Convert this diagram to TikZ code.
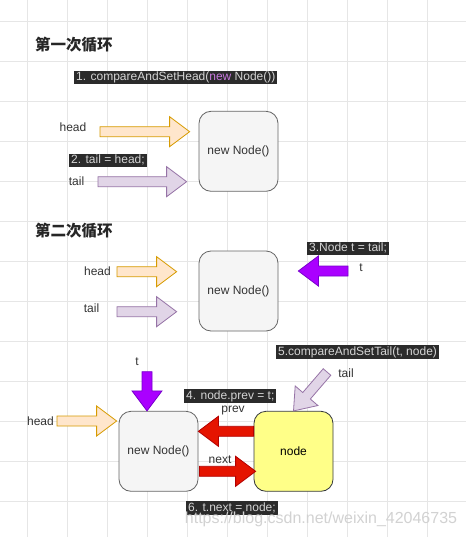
\documentclass[tikz,border=0pt]{standalone}
\usepackage{fontspec}
\setmainfont{Liberation Sans}
\newfontfamily\cjk{Noto Sans CJK SC}
\usetikzlibrary{calc}

\definecolor{gridcol}{HTML}{E6E6E6}
\definecolor{ink}{HTML}{333333}
\definecolor{boxfill}{HTML}{F5F5F5}
\definecolor{boxline}{HTML}{666666}
\definecolor{nodefill}{HTML}{FFFF88}
\definecolor{nodeline}{HTML}{36393D}
\definecolor{codebg}{HTML}{2B2B2B}
\definecolor{codetxt}{HTML}{D4D4D4}
\definecolor{keyword}{HTML}{C678DD}
\definecolor{orfill}{HTML}{FFE6CC}
\definecolor{orline}{HTML}{D79B00}
\definecolor{lifill}{HTML}{E1D5E7}
\definecolor{liline}{HTML}{9673A6}
\definecolor{vifill}{HTML}{AA00FF}
\definecolor{viline}{HTML}{7700CC}
\definecolor{rdfill}{HTML}{E51400}
\definecolor{rdline}{HTML}{B20000}

\tikzset{
  gridline/.style={draw=gridcol, line width=0.8pt},
  title/.style={anchor=west, inner sep=0pt, text=black!85,
    font={\cjk\bfseries\fontsize{15.5}{18}\selectfont}},
  code/.style={anchor=west, fill=codebg, text=codetxt, inner xsep=2pt,
    inner ysep=1pt, text height=9pt, text depth=2.5pt,
    font=\fontsize{12}{14}\selectfont},
  lbl/.style={text=ink, inner sep=1pt, font=\fontsize{12}{14}\selectfont},
  box/.style={draw=boxline, fill=boxfill, text=ink, line width=0.8pt,
    rounded corners=12pt, minimum width=79pt, minimum height=80pt,
    font=\fontsize{12}{14}\selectfont},
  orangeA/.style={draw=orline, fill=orfill},
  lilacA/.style={draw=liline, fill=lifill},
  violetA/.style={draw=viline, fill=vifill},
  redA/.style={draw=rdline, fill=rdfill},
}

% fat arrow: style, from, to
\newcommand\blockarrow[3]{%
  \path[#1, line width=0.8pt, line join=miter]
    let \p1=(#2), \p2=(#3), \n1={atan2(\y2-\y1,\x2-\x1)} in
    ($(\p1)+({\n1+90}:5pt)$)
    -- ($(\p2)+(\n1:-20pt)+({\n1+90}:5pt)$)
    -- ($(\p2)+(\n1:-20pt)+({\n1+90}:15pt)$)
    -- (\p2)
    -- ($(\p2)+(\n1:-20pt)+({\n1-90}:15pt)$)
    -- ($(\p2)+(\n1:-20pt)+({\n1-90}:5pt)$)
    -- ($(\p1)+({\n1-90}:5pt)$) -- cycle;}

\begin{document}
\begin{tikzpicture}[x=1pt, y=-1pt]
  \useasboundingbox[fill=white] (0,0) rectangle (466,537);

  % background grid
  \foreach \gx in {27.3,67.3,...,467}
    \draw[gridline] (\gx,0) -- (\gx,537);
  \foreach \gy in {21.7,61.7,...,537}
    \draw[gridline] (0,\gy) -- (466,\gy);

  % first loop
  \node[title] (title1) at (35,45) {第一次循环};
  \node[code] (code1) at (74,77.3)
    {1. compareAndSetHead(\textcolor{keyword}{new} Node())};
  \node[box] (new1) at (238.5,151.3) {new Node()};
  \node[lbl] (head1) at (73,127.7) {head};
  \node[code] (code2) at (69,160.5) {2. tail = head;};
  \node[lbl] (tail1) at (76.5,181.7) {tail};
  \coordinate (head1a) at (100,131.7);
  \coordinate (tail1a) at (98,181.7);
  \blockarrow{orangeA}{head1a}{[xshift=-9pt,yshift=19.6pt]new1.west}
  \blockarrow{lilacA}{tail1a}{[xshift=-12pt,yshift=-30.4pt]new1.west}

  % second loop
  \node[title] (title2) at (35,231) {第二次循环};
  \node[box] (new2) at (238.5,291) {new Node()};
  \node[lbl] (head2) at (97.5,271.7) {head};
  \node[lbl] (tail2) at (91.5,308) {tail};
  \node[code] (code3) at (307,248.3) {3.Node t = tail;};
  \node[lbl] (t2) at (361,268) {t};
  \coordinate (head2a) at (117,271.7);
  \coordinate (tail2a) at (117,311.7);
  \coordinate (t2a) at (348,271);
  \blockarrow{orangeA}{head2a}{[xshift=-22pt,yshift=19.3pt]new2.west}
  \blockarrow{lilacA}{tail2a}{[xshift=-22pt,yshift=-20.7pt]new2.west}
  \blockarrow{violetA}{t2a}{[xshift=20pt,yshift=20pt]new2.east}

  % enqueue
  \node[box] (new3) at (158.5,451.3) {new Node()};
  \node[box, fill=nodefill, draw=nodeline, text=black] (node) at (293.5,451.3) {node};
  \node[lbl] (t3) at (137,361.7) {t};
  \node[lbl] (head3) at (40.5,421) {head};
  \node[lbl] (tail3) at (346,373) {tail};
  \node[lbl] (prev) at (233,411) {prev};
  \node[lbl] (next) at (220,460) {next};
  \node[code] (code4) at (184,396) {4. node.prev = t;};
  \node[code] (code5) at (276,352) {5.compareAndSetTail(t, node)};
  \node[code] (code6) at (186,508) {6. t.next = node;};
  \coordinate (t3a) at (147,371.7);
  \coordinate (head3a) at (57,421);
  \coordinate (tail3a) at (327,372);
  \blockarrow{violetA}{t3a}{[xshift=-11.5pt]new3.north}
  \blockarrow{orangeA}{head3a}{[xshift=-2pt,yshift=30.3pt]new3.west}
  \blockarrow{lilacA}{tail3a}{node.north}
  \blockarrow{redA}{[yshift=20pt]node.west}{[yshift=20pt]new3.east}
  \blockarrow{redA}{[xshift=1pt,yshift=-20pt]new3.east}{[xshift=2pt,yshift=-20pt]node.west}

  % watermark
  \node[text=gray!35, inner sep=0pt, font=\fontsize{16}{18}\selectfont]
    (mark) at (321,519) {https://blog.csdn.net/weixin\_42046735};
\end{tikzpicture}
\end{document}
